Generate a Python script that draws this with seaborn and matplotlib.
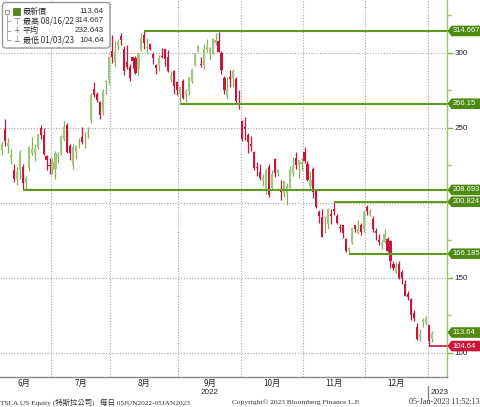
import numpy as np
import pandas as pd
import matplotlib
matplotlib.use("Agg")
import matplotlib.pyplot as plt
import seaborn as sns
from matplotlib.patches import FancyBboxPatch, Rectangle, Polygon
from matplotlib.lines import Line2D
from matplotlib.transforms import IdentityTransform

# ---------------- data ----------------
month_labels = ['6月', '7月', '8月', '9月', '10月', '11月', '12月']
month_days = [18, 20, 23, 21, 21, 21, 21, 2]

opens = [
    234.0, 235.0, 249.0, 238.0, 230.0, 222.0, 216.0, 222.0, 224.0, 213.5, 223.0, 233.0, 233.0, 237.5, 250.0, 245.0, 231.0, 225.0,
    222.0, 222.5, 230.5, 233.5, 242.8, 252.1, 238.3, 225.5, 234.9, 240.0, 244.0, 245.0, 246.8, 255.6, 276.2, 272.8, 267.1, 261.2, 280.7, 282.5,
    301.5, 294.0, 305.0, 311.0, 302.7, 294.3, 290.7, 297.1, 296.5, 289.4, 301.8, 311.7, 303.4, 306.0, 299.0, 291.9, 291.5, 297.6, 302.4, 297.4, 282.8, 287.9, 280.6,
    272.6, 281.1, 272.7, 274.7, 281.3, 291.7, 300.7, 292.9, 292.2, 301.8, 299.6, 300.1, 306.9, 308.3, 299.9, 283.1, 271.8, 283.8, 283.1, 282.8, 266.2,
    254.5, 250.5, 245.0, 239.4, 233.9, 223.9, 220.9, 215.3, 208.3, 224.0, 210.0, 229.5, 219.8, 208.3, 206.4, 205.8, 210.1, 219.4, 229.8, 225.4, 226.2,
    234.0, 226.0, 211.4, 222.6, 208.6, 194.0, 190.8, 189.9, 186.0, 192.8, 195.9, 191.5, 184.0, 185.1, 175.9, 168.6, 173.6, 185.1, 180.0, 185.0, 182.4,
    197.1, 191.8, 189.4, 181.2, 175.0, 172.2, 173.8, 176.1, 174.9, 159.3, 153.4, 159.6, 154.0, 146.0, 139.3, 136.0, 126.4, 117.5, 110.4, 120.4, 120.0,
    118.5, 109.1]
highs = [
    246.0, 241.0, 256.0, 243.0, 236.0, 226.0, 224.0, 235.5, 226.0, 218.0, 238.0, 244.0, 239.0, 246.0, 252.0, 250.0, 232.0, 230.0,
    230.0, 234.6, 234.0, 245.4, 254.9, 253.0, 239.5, 239.0, 238.7, 243.6, 250.5, 247.1, 250.7, 273.3, 280.8, 274.1, 268.0, 275.9, 282.3, 298.3,
    311.9, 307.8, 309.5, 313.6, 304.6, 305.2, 292.4, 297.5, 298.2, 300.2, 313.1, 314.667, 309.7, 306.5, 300.4, 292.4, 298.8, 303.6, 302.96, 302.0, 287.7, 288.5, 281.2,
    277.6, 282.4, 276.0, 283.8, 289.5, 299.9, 305.5, 297.4, 306.0, 309.1, 304.0, 309.8, 313.3, 313.8, 301.3, 284.5, 284.1, 288.7, 289.0, 283.7, 275.6,
    255.2, 257.5, 246.7, 244.6, 234.6, 227.0, 225.8, 219.3, 223.0, 226.3, 221.9, 229.8, 222.9, 215.6, 214.7, 213.5, 224.4, 230.6, 233.8, 228.9, 229.9,
    237.4, 227.9, 221.2, 223.8, 208.9, 195.2, 195.9, 191.0, 196.5, 195.7, 200.824, 192.6, 186.2, 185.2, 176.8, 170.9, 183.6, 185.2, 188.5, 186.4, 194.8,
    198.9, 196.3, 191.3, 183.6, 179.4, 175.2, 182.5, 177.4, 175.1, 161.6, 160.9, 161.0, 155.3, 148.5, 141.3, 136.6, 128.6, 119.7, 116.3, 123.6, 124.5,
    118.8, 114.6]
lows = [
    232.0, 232.0, 238.0, 233.0, 226.0, 214.0, 212.0, 216.0, 208.693, 209.5, 221.0, 232.0, 228.0, 236.0, 242.6, 232.0, 222.0, 219.0,
    219.0, 216.2, 226.5, 232.3, 241.2, 233.6, 228.4, 222.6, 229.3, 236.9, 239.6, 236.9, 243.5, 253.5, 270.7, 267.4, 256.3, 258.9, 272.9, 279.1,
    293.3, 291.5, 301.9, 305.0, 285.5, 289.1, 281.5, 290.1, 285.8, 285.0, 301.2, 302.9, 300.0, 301.9, 292.5, 286.3, 287.9, 296.5, 291.6, 287.5, 280.7, 272.7, 271.8,
    266.15, 269.1, 267.0, 272.2, 279.8, 291.3, 300.4, 290.4, 289.3, 300.7, 295.6, 299.6, 305.6, 300.6, 285.8, 272.8, 270.3, 277.5, 277.6, 265.8, 262.5,
    241.0, 242.0, 233.3, 234.7, 222.0, 218.0, 215.0, 211.5, 206.2, 204.2, 209.5, 217.3, 217.8, 202.0, 203.8, 198.6, 210.0, 218.2, 222.9, 216.4, 221.9,
    226.5, 214.8, 210.1, 203.1, 196.7, 186.8, 177.1, 180.0, 182.6, 186.3, 192.1, 185.7, 180.6, 176.6, 167.5, 166.185, 172.5, 180.6, 179.0, 178.8, 180.6,
    191.8, 191.1, 180.6, 175.3, 172.2, 169.1, 173.4, 167.5, 156.9, 155.3, 153.3, 149.4, 145.8, 137.7, 135.0, 122.3, 121.0, 108.8, 108.2, 117.5, 118.5,
    104.64, 107.5]
closes = [
    243.0, 239.0, 241.0, 239.7, 232.2, 215.7, 220.9, 233.0, 213.1, 216.8, 237.0, 236.1, 236.5, 245.7, 245.0, 232.7, 228.5, 224.5,
    227.3, 233.1, 231.7, 244.5, 250.8, 234.3, 233.1, 237.0, 238.3, 240.1, 240.5, 245.5, 247.5, 271.7, 272.2, 268.4, 258.9, 274.8, 280.9, 297.1,
    297.3, 300.6, 307.4, 308.6, 288.2, 290.4, 283.3, 294.4, 286.6, 300.0, 309.3, 306.6, 304.0, 302.9, 296.7, 289.9, 296.5, 297.1, 296.1, 288.1, 284.8, 277.7, 275.6,
    277.2, 270.2, 274.4, 283.7, 289.3, 299.7, 304.4, 292.1, 302.6, 303.8, 303.4, 309.1, 308.7, 300.8, 288.6, 275.3, 276.0, 282.9, 287.8, 268.2, 265.3,
    242.4, 249.4, 240.8, 238.1, 223.1, 223.0, 216.5, 217.2, 221.7, 205.0, 219.4, 220.2, 222.0, 207.3, 214.4, 211.3, 222.4, 224.6, 225.1, 228.5, 227.5,
    227.8, 215.0, 215.3, 207.5, 197.1, 191.3, 177.6, 190.7, 196.0, 191.0, 194.4, 186.9, 183.2, 180.2, 167.9, 169.9, 183.2, 182.9, 182.9, 180.8, 194.7,
    194.7, 194.9, 182.5, 179.8, 174.0, 173.4, 179.1, 167.8, 161.0, 156.8, 157.7, 150.2, 149.9, 137.8, 137.6, 125.4, 123.2, 109.1, 112.7, 121.8, 123.2,
    108.1, 113.64]

level_values = [314.667, 266.15, 208.693, 200.824, 166.185]
level_start = [49, 61, 8, 113, 118]
last_price = 113.64
low_price = 104.64
low_index = 145
y_ticks = [100, 150, 200, 250, 300]
y_tick_labels = ['100', '150', '', '250', '300']   # "200" is hidden behind the 200.824 tag
y_minor = [125, 175, 225, 275, 325]
legend_names = ['最新價', '最高 08/16/22', '平均', '最低 01/03/23']
legend_values = ['113.64', '314.667', '232.643', '104.64']
footer_left = 'TSLA US Equity (特斯拉公司)   每日 05JUN2022-05JAN2023'
footer_mid = 'Copyright© 2023 Bloomberg Finance L.P.'
footer_right = '05-Jan-2023 11:52:13'

df = pd.DataFrame({'o': opens, 'h': highs, 'l': lows, 'c': closes})
df['i'] = np.arange(len(df))

# ---------------- style ----------------
sns.set_theme(style="white")
plt.rcParams['font.family'] = ['DejaVu Sans', 'Noto Sans CJK TC']

W, H = 481, 407
fig = plt.figure(figsize=(W / 100, H / 100), dpi=100)
fig.patch.set_facecolor('white')
ax = fig.add_axes([0, 30 / H, 447 / W, 377 / H])
ax.set_facecolor('white')
ax.set_xlim(0.3, 151.06)
ax.set_ylim(84, 335.3)

GREEN_LINE = '#5f9b1e'
LABEL_GREEN = '#4f8a12'
RED = '#c8173a'
UP_BODY = '#a2c67f'
UP_WICK = '#86b055'
GRID = '#a8a8a8'

# grid
bounds = np.cumsum(month_days)[:-1] - 0.5
for b in bounds:
    ax.axvline(b, color=GRID, lw=0.8, ls=(0, (1, 1.5)), zorder=0)
for t in y_ticks:
    ax.axhline(t, color=GRID, lw=0.8, ls=(0, (1, 1.5)), zorder=0)

# candles
up = df['c'] >= df['o']
wick_col = np.where(up, UP_WICK, RED)
body_col = np.where(up, UP_BODY, RED)
hi = df[['h', 'o', 'c']].max(axis=1)
lo = df[['l', 'o', 'c']].min(axis=1)
ax.vlines(df['i'], lo, hi, colors=wick_col, lw=0.9, zorder=2)
body_h = (df['c'] - df['o']).abs().clip(lower=0.6)
ax.bar(df['i'], body_h, bottom=df[['o', 'c']].min(axis=1), width=0.72,
       color=body_col, linewidth=0, zorder=3)

# level lines
xmax = ax.get_xlim()[1]
for v, s in zip(level_values, level_start):
    ax.hlines(v, s, xmax, color=GREEN_LINE, lw=1.5, zorder=4)
ax.hlines(low_price, low_index, xmax, color=RED, lw=1.2, zorder=4)

# axes styling
for sp in ['top', 'left']:
    ax.spines[sp].set_visible(False)
ax.spines['right'].set_color('#9cc46c')
ax.spines['right'].set_linewidth(1.0)
ax.spines['bottom'].set_color('#8a8a8a')
ax.spines['bottom'].set_linewidth(1.0)
ax.yaxis.tick_right()
ax.set_yticks(y_ticks)
ax.set_yticks(y_minor, minor=True)
ax.set_yticklabels(y_tick_labels, family=['Liberation Sans', 'DejaVu Sans'])
ax.tick_params(axis='y', which='major', direction='out', length=4, width=1,
               color='#7fb04a', labelcolor='#222222', labelsize=5.8, pad=1.5)
ax.tick_params(axis='y', which='minor', direction='out', length=3, width=1,
               color='#9cc46c')
ax.set_xticks(bounds)
ax.tick_params(axis='x', direction='out', length=3, width=1, color='#8a8a8a',
               labelbottom=False)

T = IdentityTransform()


def fig_text(x, y, s, **kw):
    fig.text(x, H - y, s, transform=T, **kw)


def data_px(i, v):
    return ax.transData.transform((i, v))


# month labels
starts = np.concatenate([[-0.5], bounds])
ends = np.concatenate([bounds, [144.5]])
for lab, a, b in zip(month_labels, starts, ends):
    xm = data_px((a + b) / 2, 0)[0]
    fig_text(xm, 383, lab, ha='center', va='center', fontsize=5.9, color='#222222',
             family=['Noto Sans CJK TC', 'DejaVu Sans'])
fig_text(data_px(71, 0)[0], 393, '2022', ha='center', va='center', fontsize=5.9,
         color='#222222', family=['Liberation Sans', 'DejaVu Sans'])
fig.add_artist(Line2D([427.5, 427.5], [H - 386, H - 399], transform=T,
                      color='#888888', lw=1))
fig_text(431, 393, '2023', ha='left', va='center', fontsize=5.9, color='#222222',
         family=['Liberation Sans', 'DejaVu Sans'])

# footer
ffam = ['Liberation Serif', 'Noto Sans CJK TC']
fig_text(0, 402, footer_left, ha='left', va='center', fontsize=5.3, color='#333333', family=ffam)
fig_text(296, 402, footer_mid, ha='center', va='center', fontsize=5.4, color='#333333', family=ffam)
fig_text(480, 402, footer_right, ha='right', va='center', fontsize=5.9, color='#333333', family=ffam)

# value labels on the right
labels = [(f'{v:g}', v, LABEL_GREEN) for v in level_values] + \
         [(f'{last_price:.2f}', last_price, LABEL_GREEN), (f'{low_price:.2f}', low_price, RED)]
for txt, v, col in labels:
    yc = data_px(0, v)[1]
    hh = 5.3
    poly = Polygon([(447.5, yc), (451.5, yc + hh), (481, yc + hh), (481, yc - hh), (451.5, yc - hh)],
                   closed=True, transform=T, facecolor=col, edgecolor='none', zorder=10)
    fig.add_artist(poly)
    fig.text(452.5, yc, txt, transform=T, ha='left', va='center', fontsize=5.4,
             color='white', zorder=11, family=['Liberation Sans', 'DejaVu Sans'])

# legend box
fig.add_artist(FancyBboxPatch((2.5, H - 48), 107.5, 45.5, boxstyle='round,pad=0,rounding_size=3',
                              transform=T, facecolor='white', edgecolor='#9a9a9a', lw=1.0, zorder=20))
rows = [11.5, 21, 30.5, 40]
# tree
fig.add_artist(Rectangle((5, H - 13.5), 4, 4, transform=T, facecolor='white',
                         edgecolor='#999999', lw=0.7, zorder=21))
fig.add_artist(Line2D([7, 7], [H - 13.5, H - 40], transform=T, color='#aaaaaa', lw=0.7, zorder=21))
for r in rows[1:]:
    fig.add_artist(Line2D([7, 11], [H - r, H - r], transform=T, color='#aaaaaa', lw=0.7, zorder=21))
fig.add_artist(Rectangle((13, H - 15), 7, 7, transform=T, facecolor=LABEL_GREEN,
                         edgecolor='#3d6e0c', lw=0.5, zorder=21))
syms = ['', '⊤', '+', '⊥']
for r, s, name, val in zip(rows, syms, legend_names, legend_values):
    if s:
        fig.text(16.5, H - r, s, transform=T, ha='center', va='center', fontsize=5.6,
                 color='#666666', zorder=22)
    fig.text(23, H - r, name, transform=T, ha='left', va='center', fontsize=5.8,
             color='#333333', family=['Noto Sans CJK TC', 'DejaVu Sans'], zorder=22)
    fig.text(104, H - r, val, transform=T, ha='right', va='center', fontsize=5.8,
             color='#333333', family=['Liberation Sans', 'DejaVu Sans'], zorder=22)

fig.savefig('out.png', dpi=100)
